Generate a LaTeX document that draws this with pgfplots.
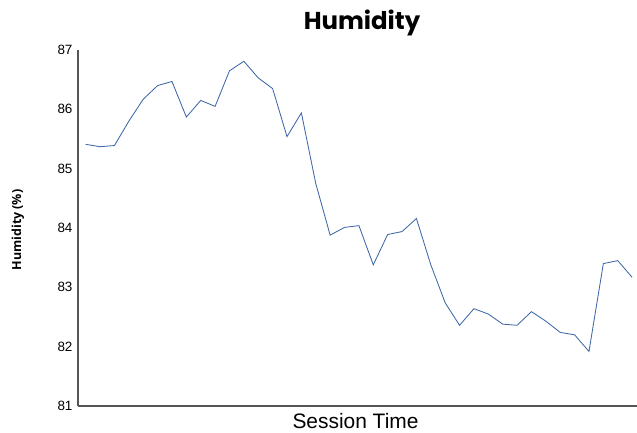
\documentclass[border=0pt]{standalone}
\usepackage{fontspec}
\setmainfont{Liberation Sans}
\newfontfamily\titlefont{Poppins}
\newfontfamily\ylabfont{Open Sans}
\usepackage{pgfplots}
\pgfplotsset{compat=1.18}
\definecolor{linecol}{RGB}{62,104,166}
\definecolor{axcol}{RGB}{85,85,85}
\begin{document}
\begin{tikzpicture}
\path[use as bounding box] (-78bp,-27bp) rectangle (559bp,406bp);
\begin{axis}[
  at={(0,0)}, anchor=south west,
  scale only axis, width=559bp, height=356bp,
  xmin=-0.535, xmax=38.34, ymin=81, ymax=87,
  axis x line*=bottom, axis y line*=left,
  axis line style={axcol, line width=1.1pt, -},
  xtick=\empty, ytick={81,82,...,87},
  major tick length=0pt,
  yticklabel style={font=\fontsize{13.5}{13.5}\selectfont, xshift=-2bp},
  /pgf/number format/assume math mode=true,
  clip=false,
]
\addplot[linecol, line width=0.85pt] coordinates {
(0,85.41) (1,85.37) (2,85.39) (3,85.80) (4,86.17) (5,86.40) (6,86.47) (7,85.87)
(8,86.15) (9,86.05) (10,86.65) (11,86.81) (12,86.53) (13,86.35) (14,85.54) (15,85.94)
(16,84.75) (17,83.88) (18,84.01) (19,84.04) (20,83.38) (21,83.89) (22,83.94) (23,84.16)
(24,83.38) (25,82.74) (26,82.36) (27,82.64) (28,82.55) (29,82.38) (30,82.36) (31,82.59)
(32,82.43) (33,82.24) (34,82.20) (35,81.92) (36,83.40) (37,83.45) (38,83.17)
};
\end{axis}
\node[anchor=base, inner sep=0pt, font=\titlefont\bfseries\fontsize{24.5}{24.5}\selectfont] at (284bp,376bp) {Humidity};
\node[anchor=base, inner sep=0pt, font=\fontsize{21}{21}\selectfont] at (277.5bp,-22.3bp) {Session Time};
\node[rotate=90, font=\ylabfont\bfseries\fontsize{12.5}{12.5}\selectfont] at (-60bp,176bp) {Humidity (\%)};
\end{tikzpicture}
\end{document}
